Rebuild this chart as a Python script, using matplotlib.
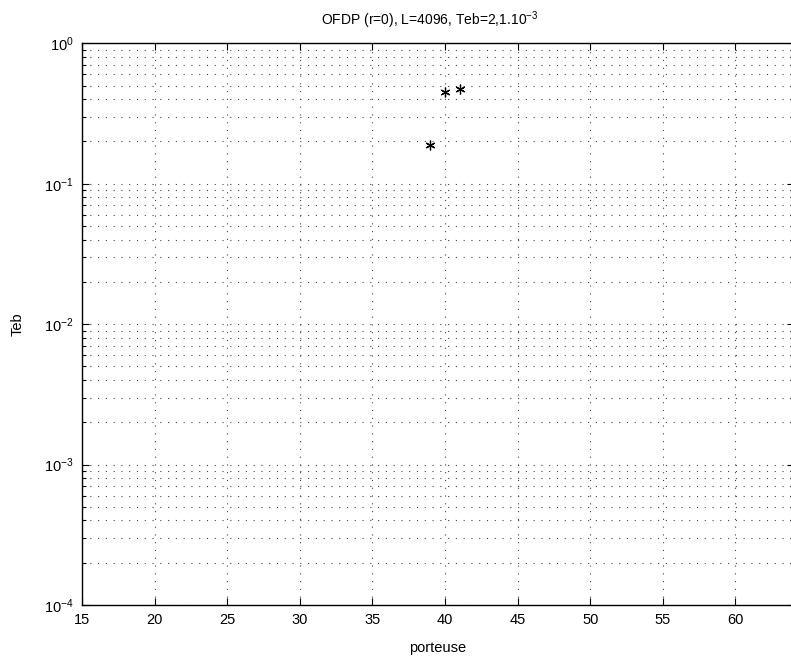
import numpy as np
import matplotlib
matplotlib.use('Agg')
from matplotlib import pyplot as plt
from matplotlib.ticker import LogLocator, NullFormatter

porteuse = [39, 40, 41]
teb = [0.189, 0.453, 0.473]
xticks = [15, 20, 25, 30, 35, 40, 45, 50, 55, 60]

plt.rcParams['font.family'] = ['Liberation Sans', 'DejaVu Sans']
plt.rcParams['font.size'] = 10.5
plt.rcParams['mathtext.fontset'] = 'custom'
plt.rcParams['mathtext.rm'] = 'Liberation Sans'

fig = plt.figure(figsize=(7.91, 6.57), dpi=100)
ax = fig.add_axes([0.1037, 0.0791, 0.9, 0.855])

ax.semilogy(porteuse, teb, linestyle='none', marker=(6, 2, 0), markersize=7,
            color='black', markeredgewidth=0.9)

ax.set_xlim(15, 64.03)
ax.set_ylim(1e-4, 1)
ax.set_xticks(xticks)
ax.yaxis.set_major_locator(LogLocator(base=10, numticks=10))
ax.yaxis.set_minor_locator(LogLocator(base=10, subs=np.arange(2, 10), numticks=20))
ax.yaxis.set_minor_formatter(NullFormatter())

ax.grid(True, which='major', linestyle=(0, (1, 6)), color='#444444', linewidth=0.8)
ax.grid(True, which='minor', axis='y', linestyle=(0, (1, 6)), color='#444444', linewidth=0.8)
ax.set_axisbelow(True)

ax.tick_params(which='both', direction='in', top=True, right=True, width=0.8)
ax.tick_params(which='major', length=5, pad=6)
ax.tick_params(which='minor', length=3)
for s in ax.spines.values():
    s.set_linewidth(1.0)

ax.set_title('OFDP (r=0), L=4096, Teb=2,1.10$^{-3}$', fontsize=10, pad=13, x=0.489)
ax.set_xlabel('porteuse', labelpad=10)
ax.set_ylabel('Teb', labelpad=14)

fig.savefig('out.png', dpi=100)
